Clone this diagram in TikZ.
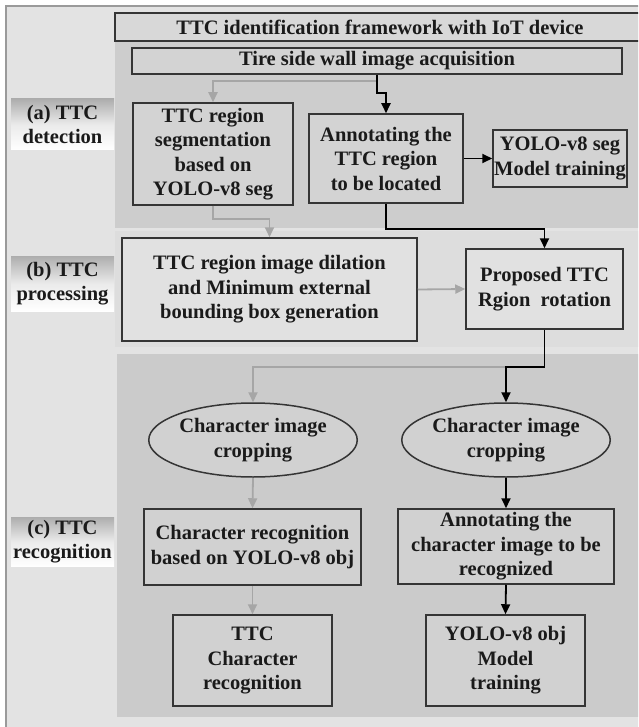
\documentclass[tikz,border=0pt]{standalone}
\usepackage{fontspec}
\setmainfont{Liberation Serif}
\usetikzlibrary{arrows.meta,shapes.geometric,calc}

\definecolor{frameback}{HTML}{E3E3E3}
\definecolor{frameline}{HTML}{9A9A9A}
\definecolor{panelA}{HTML}{CDCDCD}
\definecolor{panelB}{HTML}{DDDDDD}
\definecolor{panelC}{HTML}{CBCBCB}
\definecolor{titlefill}{HTML}{D8D8D8}
\definecolor{boxline}{HTML}{353535}
\definecolor{arrowgray}{HTML}{A6A6A6}
\definecolor{textdark}{HTML}{1A1A1A}

\begin{document}
\begin{tikzpicture}[x=1pt,y=-1pt,
  txt/.style={font=\fontsize{20.5}{24.5}\selectfont\bfseries, text=textdark, align=center},
  box/.style={txt, draw=boxline, line width=1.5pt, fill=white, fill opacity=0.12,
              text opacity=1, inner sep=1pt},
  oval/.style={box, ellipse, inner sep=0pt},
  lab/.style={txt, minimum width=103, inner sep=1pt,
              top color=black!32, bottom color=white, middle color=white!92!black},
  blk/.style={draw=black, line width=1.8pt, -{Triangle[length=10pt,width=9pt]}},
  gry/.style={draw=arrowgray, line width=1.8pt, -{Triangle[length=10pt,width=9pt]}}]

\useasboundingbox (0,0) rectangle (638,727);
\clip (0,0) rectangle (638,727);

% outer frame and the three stage panels
\draw[fill=frameback, draw=frameline, line width=1.2pt] (6,6) rectangle (670,740);
\fill[panelA] (115,41) rectangle (670,228);
\fill[panelB] (115,231) rectangle (670,347);
\fill[panelC] (117,354) rectangle (670,717);

% header
\node[box, fill=titlefill, fill opacity=1, minimum width=530, minimum height=28]
  (title) at (380,27) {TTC identification framework with IoT device};

% stage labels
\node[lab, minimum height=51] (la) at (62.5,124.5) {(a) TTC\\detection};
\node[lab, minimum height=55] (lb) at (62.5,283.5) {(b) TTC\\processing};
\node[lab, minimum height=49] (lc) at (62.5,541.5) {(c) TTC\\recognition};

% (a) detection
\node[box, minimum width=490, minimum height=26] (tire) at (377,61)
  {Tire side wall image acquisition};
\node[box, minimum width=160, minimum height=102] (seg) at (213,154)
  {TTC region\\segmentation\\based on\\YOLO-v8 seg};
\node[box, minimum width=154, minimum height=89] (annot) at (386,158.5)
  {Annotating the\\TTC region\\to be located};
\node[box, minimum width=134, minimum height=57] (yseg) at (560,158.5)
  {YOLO-v8 seg\\Model training};

% (b) processing
\node[box, minimum width=295, minimum height=103] (dil) at (269.5,289.5)
  {TTC region image dilation\\and Minimum external\\bounding box generation};
\node[box, minimum width=157, minimum height=80] (prop) at (544.5,289)
  {Proposed TTC\\Rgion~ rotation};

% (c) recognition
\node[oval, minimum width=170, minimum height=74] (crop1) at (253,440)
  {Character image\\cropping};
\node[oval, minimum width=170, minimum height=74] (crop2) at (506,440)
  {Character image\\cropping};
\node[box, minimum width=217, minimum height=76] (crec) at (252.5,547)
  {Character recognition\\based on YOLO-v8 obj};
\node[box, minimum width=216, minimum height=75] (canno) at (506,546.5)
  {Annotating the\\character image to be\\recognized};
\node[box, minimum width=159, minimum height=91] (ttcrec) at (252.5,660.5)
  {TTC\\Character\\recognition};
\node[box, minimum width=159, minimum height=91] (ytrain) at (505.5,660.5)
  {YOLO-v8 obj\\Model\\training};

% inference path (gray)
\draw[gry] ($(tire.south)+(0,6)$) -| (seg.north);
\draw[gry] (seg.south) -- ++(0,13) -| (dil.north);
\draw[gry] (dil.east) -- (prop.west);
\coordinate (split) at ($(prop.south)+(0,37)$);
\draw[gry] (split -| crop2.north) -| (crop1.north);
\draw[gry] (crop1.south) -- (crec.north);
\draw[gry] (crec.south) -- (ttcrec.north);

% training path (black)
\draw[blk] (tire.south) -- ++(0,18) -| (annot.north);
\draw[blk] (annot.east) -- (yseg.west);
\draw[blk] (annot.south) -- ++(0,25) -| (prop.north);
\draw[blk] (prop.south) -- (split) -| (crop2.north);
\draw[blk] (crop2.south) -- (canno.north);
\draw[blk] (canno.south) -- (ytrain.north);
\end{tikzpicture}
\end{document}
